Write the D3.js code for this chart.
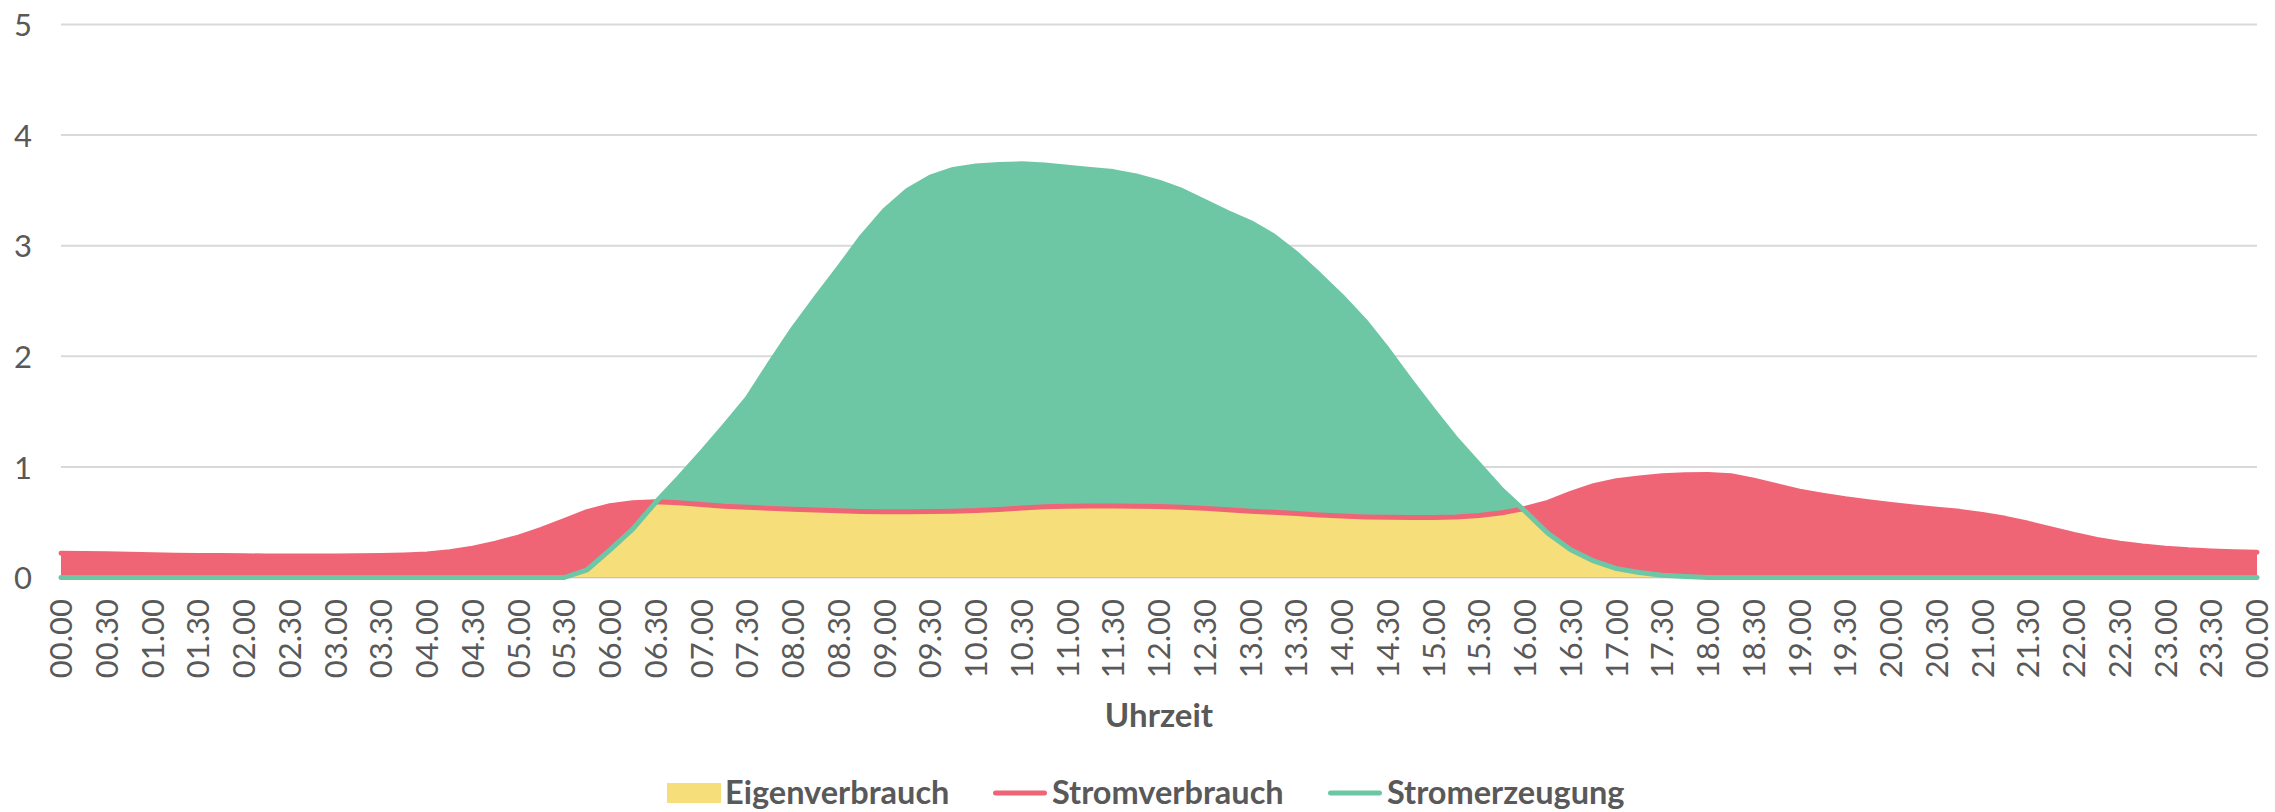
<!DOCTYPE html>
<html>
<head>
<meta charset="utf-8">
<script src="https://cdn.jsdelivr.net/npm/d3@7"></script>
<style>
  html, body { margin: 0; padding: 0; background: #ffffff; }
  svg { display: block; }
</style>
</head>
<body>
<svg id="chart" width="2275" height="812"></svg>
<script>
// ---- data (quarter-hour values, kW) ----
const categories = [
  "00:00","00:15","00:30","00:45","01:00","01:15","01:30","01:45",
  "02:00","02:15","02:30","02:45","03:00","03:15","03:30","03:45",
  "04:00","04:15","04:30","04:45","05:00","05:15","05:30","05:45",
  "06:00","06:15","06:30","06:45","07:00","07:15","07:30","07:45",
  "08:00","08:15","08:30","08:45","09:00","09:15","09:30","09:45",
  "10:00","10:15","10:30","10:45","11:00","11:15","11:30","11:45",
  "12:00","12:15","12:30","12:45","13:00","13:15","13:30","13:45",
  "14:00","14:15","14:30","14:45","15:00","15:15","15:30","15:45",
  "16:00","16:15","16:30","16:45","17:00","17:15","17:30","17:45",
  "18:00","18:15","18:30","18:45","19:00","19:15","19:30","19:45",
  "20:00","20:15","20:30","20:45","21:00","21:15","21:30","21:45",
  "22:00","22:15","22:30","22:45","23:00","23:15","23:30","23:45",
  "24:00"
];

const stromverbrauch = [
  0.220,0.218,0.215,0.210,0.205,0.202,0.200,0.198,
  0.196,0.195,0.195,0.195,0.195,0.196,0.198,0.203,
  0.212,0.232,0.265,0.310,0.365,0.435,0.515,0.595,
  0.650,0.675,0.685,0.675,0.660,0.645,0.635,0.625,
  0.618,0.610,0.603,0.597,0.594,0.594,0.596,0.600,
  0.605,0.615,0.628,0.640,0.645,0.646,0.646,0.645,
  0.643,0.636,0.625,0.612,0.600,0.590,0.578,0.565,
  0.555,0.548,0.545,0.543,0.542,0.548,0.560,0.585,
  0.625,0.680,0.760,0.830,0.875,0.900,0.920,0.930,
  0.932,0.920,0.880,0.830,0.780,0.745,0.712,0.685,
  0.660,0.638,0.617,0.598,0.570,0.535,0.490,0.440,
  0.390,0.345,0.310,0.285,0.265,0.250,0.240,0.232,
  0.228
];

const stromerzeugung = [
  0,0,0,0,0,0,0,0,
  0,0,0,0,0,0,0,0,
  0,0,0,0,0,0,0,0.07,
  0.25,0.44,0.68,0.90,1.13,1.37,1.62,1.94,
  2.25,2.53,2.80,3.08,3.32,3.50,3.62,3.69,
  3.72,3.735,3.74,3.73,3.71,3.69,3.67,3.63,
  3.575,3.50,3.40,3.30,3.21,3.09,2.93,2.74,
  2.54,2.32,2.06,1.78,1.51,1.25,1.02,0.79,
  0.60,0.40,0.25,0.15,0.08,0.045,0.02,0.01,
  0,0,0,0,0,0,0,0,
  0,0,0,0,0,0,0,0,
  0,0,0,0,0,0,0,0,
  0
];

const eigenverbrauch = [
  0,0,0,0,0,0,0,0,
  0,0,0,0,0,0,0,0,
  0,0,0,0,0,0,0,0.07,
  0.25,0.44,0.68,0.675,0.660,0.645,0.635,0.625,
  0.618,0.610,0.603,0.597,0.594,0.594,0.596,0.600,
  0.605,0.615,0.628,0.640,0.645,0.646,0.646,0.645,
  0.643,0.636,0.625,0.612,0.600,0.590,0.578,0.565,
  0.555,0.548,0.545,0.543,0.542,0.548,0.560,0.585,
  0.60,0.40,0.25,0.15,0.08,0.045,0.02,0.01,
  0,0,0,0,0,0,0,0,
  0,0,0,0,0,0,0,0,
  0,0,0,0,0,0,0,0,
  0
];

const xTickLabels = [
  "00.00","00.30","01.00","01.30","02.00","02.30","03.00","03.30",
  "04.00","04.30","05.00","05.30","06.00","06.30","07.00","07.30",
  "08.00","08.30","09.00","09.30","10.00","10.30","11.00","11.30",
  "12.00","12.30","13.00","13.30","14.00","14.30","15.00","15.30",
  "16.00","16.30","17.00","17.30","18.00","18.30","19.00","19.30",
  "20.00","20.30","21.00","21.30","22.00","22.30","23.00","23.30",
  "00.00"
];
const yTicks = [0, 1, 2, 3, 4, 5];
const xTitle = "Uhrzeit";
const seriesNames = ["Eigenverbrauch", "Stromverbrauch", "Stromerzeugung"];

// ---- styles ----
const COLORS = { eigen: "#F6DE7B", verbrauch: "#EF6575", erzeugung: "#6DC7A5" };
const TEXT = "#595959";
const FONT = "Lato, 'Noto Sans', sans-serif";

const svg = d3.select("#chart");
const plotLeft = 61, plotRight = 2257, plotTop = 24.5, plotBottom = 577.5;

const x = d3.scalePoint().domain(categories).range([plotLeft, plotRight]);
const y = d3.scaleLinear().domain([0, 5]).range([plotBottom, plotTop]);

// gridlines
svg.append("g").selectAll("line").data(yTicks).join("line")
  .attr("x1", plotLeft).attr("x2", plotRight)
  .attr("y1", d => y(d)).attr("y2", d => y(d))
  .attr("stroke", "#d9d9d9").attr("stroke-width", 2);

// y axis labels
const yAxis = d3.axisLeft(y).tickValues(yTicks).tickSize(0).tickPadding(0).tickFormat(d3.format("d"));
const gy = svg.append("g").attr("transform", "translate(32,0)").call(yAxis);
gy.select(".domain").remove();
gy.selectAll("text").attr("fill", TEXT).attr("font-family", FONT).attr("font-size", 31).attr("dy", "0.36em");

// areas
const idx = d3.range(categories.length);
const areaPath = vals => d3.area().x(i => x(categories[i])).y0(y(0)).y1(i => y(vals[i]))(idx);
const linePath = vals => d3.line().x(i => x(categories[i])).y(i => y(vals[i]))(idx);

svg.append("path").attr("d", areaPath(stromverbrauch)).attr("fill", COLORS.verbrauch);
svg.append("path").attr("d", areaPath(stromerzeugung)).attr("fill", COLORS.erzeugung);
svg.append("path").attr("d", areaPath(eigenverbrauch)).attr("fill", COLORS.eigen);
svg.append("path").attr("d", linePath(stromverbrauch)).attr("fill", "none")
  .attr("stroke", COLORS.verbrauch).attr("stroke-width", 5)
  .attr("stroke-linecap", "round").attr("stroke-linejoin", "round");
svg.append("path").attr("d", linePath(stromerzeugung)).attr("fill", "none")
  .attr("stroke", COLORS.erzeugung).attr("stroke-width", 5)
  .attr("stroke-linecap", "round").attr("stroke-linejoin", "round");

// x tick labels (every 30 min)
const xl = d3.scaleLinear().domain([0, xTickLabels.length - 1]).range([plotLeft, plotRight]);
svg.append("g").selectAll("text").data(xTickLabels).join("text")
  .attr("transform", (d, i) => `translate(${xl(i)},599) rotate(-90)`)
  .attr("text-anchor", "end").attr("dy", "0.36em")
  .attr("fill", TEXT).attr("font-family", FONT).attr("font-size", 31)
  .text(d => d);

// x axis title
svg.append("text").attr("x", 1159).attr("y", 727).attr("text-anchor", "middle")
  .attr("fill", TEXT).attr("font-family", FONT).attr("font-weight", 700).attr("font-size", 33)
  .text(xTitle);

// legend
const legendItems = [
  { name: seriesNames[0], color: COLORS.eigen, type: "box", sx: 667, tx: 725 },
  { name: seriesNames[1], color: COLORS.verbrauch, type: "line", sx: 993, tx: 1052 },
  { name: seriesNames[2], color: COLORS.erzeugung, type: "line", sx: 1328, tx: 1387 }
];
const lg = svg.append("g");
const symW = 54, ly = 793;
legendItems.forEach(it => {
  if (it.type === "box") {
    lg.append("rect").attr("x", it.sx).attr("y", ly - 10).attr("width", symW).attr("height", 20).attr("fill", it.color);
  } else {
    lg.append("line").attr("x1", it.sx + 2.5).attr("x2", it.sx + symW - 2.5).attr("y1", ly).attr("y2", ly)
      .attr("stroke", it.color).attr("stroke-width", 5).attr("stroke-linecap", "round");
  }
  lg.append("text").attr("x", it.tx).attr("y", 804)
    .attr("fill", TEXT).attr("font-family", FONT).attr("font-weight", 700).attr("font-size", 32.5)
    .text(it.name);
});
</script>
</body>
</html>
